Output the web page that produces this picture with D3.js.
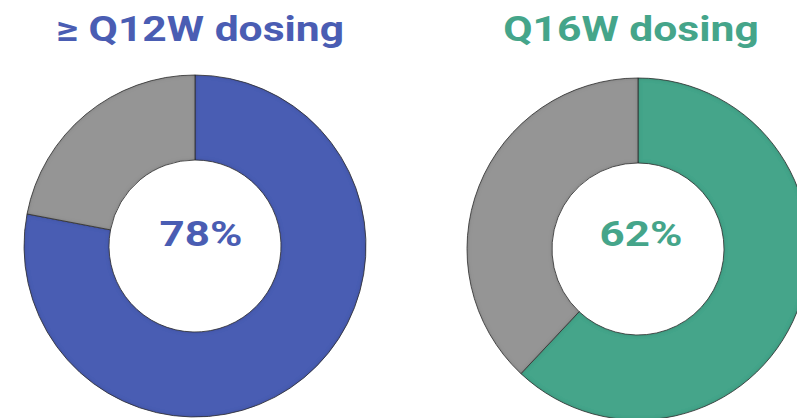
<!DOCTYPE html>
<html><head><meta charset="utf-8">
<script src="https://cdn.jsdelivr.net/npm/d3@7/dist/d3.min.js"></script>
<style>
html,body{margin:0;padding:0;background:#fff;overflow:hidden;}
svg{display:block;}
</style></head>
<body>
<svg id="chart" width="797" height="418"></svg>
<script>
// ---- data ----
const groups = ["≥ Q12W dosing", "Q16W dosing"];
const achieved = [78, 62];          // % of patients on the dosing interval
const remaining = [22, 38];
const centerLabels = ["78%", "62%"];
const groupColors = ["#4a5db3", "#45a58a"];
const restColor = "#959595";

const W = 797, H = 418;
const svg = d3.select("#chart");

const defs = svg.append("defs");
// bevel: darker inner edges
const f = defs.append("filter").attr("id","bevel").attr("x","-10%").attr("y","-10%").attr("width","120%").attr("height","120%");
f.append("feGaussianBlur").attr("in","SourceAlpha").attr("stdDeviation",2.2).attr("result","blur");
f.append("feComposite").attr("in","SourceAlpha").attr("in2","blur").attr("operator","arithmetic")
  .attr("k1",0).attr("k2",1).attr("k3",-1).attr("k4",0).attr("result","edge");
f.append("feFlood").attr("flood-color","#000").attr("flood-opacity",0.4).attr("result","col");
f.append("feComposite").attr("in","col").attr("in2","edge").attr("operator","in").attr("result","shadow");
const m = f.append("feMerge");
m.append("feMergeNode").attr("in","SourceGraphic");
m.append("feMergeNode").attr("in","shadow");

const x = d3.scalePoint().domain(groups).range([195, 638]);
const cy = [246, 249];
const rOuter = 171, rInner = 86;

const pie = d3.pie().sort(null).value(d => d.v).startAngle(0).endAngle(2*Math.PI);
const arc = d3.arc().innerRadius(rInner).outerRadius(rOuter);

const font = "Roboto, 'Noto Sans', sans-serif";

groups.forEach((g, i) => {
  const data = [{k:"a", v: achieved[i], c: groupColors[i]}, {k:"b", v: remaining[i], c: restColor}];
  const gEl = svg.append("g").attr("transform", `translate(${x(g)},${cy[i]})`);
  gEl.selectAll("path").data(pie(data)).join("path")
    .attr("d", arc)
    .attr("fill", d => d.data.c)
    .attr("stroke", "#333")
    .attr("stroke-width", 0.8)
    .attr("filter", "url(#bevel)");
  gEl.append("text")
    .attr("transform", `translate(${[6,3][i]},${[0,-3][i]}) scale(1.22,1)`)
    .attr("text-anchor","middle")
    .attr("font-family", font)
    .attr("font-weight", 700)
    .attr("font-size", 36)
    .attr("fill", groupColors[i])
    .text(centerLabels[i]);
});

// titles
const titleX = [200, 631];
groups.forEach((g, i) => {
  svg.append("text")
    .attr("transform", `translate(${titleX[i]},41) scale(1.2,1)`)
    .attr("text-anchor","middle")
    .attr("font-family", font)
    .attr("font-weight", 700)
    .attr("font-size", 35.5)
    .attr("fill", groupColors[i])
    .text(g);
});
</script>
</body></html>
